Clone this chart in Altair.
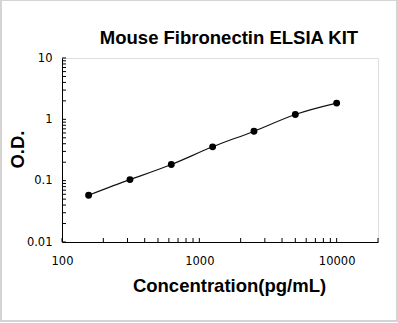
import altair as alt
import pandas as pd

# ---- data ----
conc = [156.25, 312.5, 625, 1250, 2500, 5000, 10000]
od = [0.058, 0.104, 0.183, 0.356, 0.641, 1.20, 1.84]

x_major = [100, 1000, 10000]
x_minor = [200, 300, 400, 500, 600, 700, 800, 900,
           2000, 3000, 4000, 5000, 6000, 7000, 8000, 9000, 20000]
y_major = [0.01, 0.1, 1, 10]
y_minor = [0.02, 0.03, 0.04, 0.05, 0.06, 0.07, 0.08, 0.09,
           0.2, 0.3, 0.4, 0.5, 0.6, 0.7, 0.8, 0.9,
           2, 3, 4, 5, 6, 7, 8, 9]
title_text = ["Mouse Fibronectin ELSIA KIT"]

W, H = 316, 184

df = pd.DataFrame({"conc": conc, "od": od})
xt = pd.DataFrame({"v": x_major + x_minor})
yt = pd.DataFrame({"v": y_major + y_minor})

xscale = alt.Scale(type="log", domain=[100, 20000], nice=False)
yscale = alt.Scale(type="log", domain=[0.01, 10], nice=False)

x_axis = alt.Axis(
    values=x_major, format="d", grid=False, ticks=True, tickSize=0,
    domainColor="black", domainWidth=1,
    labelFont="DejaVu Sans", labelFontSize=11.5, labelColor="black",
    labelPadding=13, labelFlush=False, labelOverlap=False,
    title="Concentration(pg/mL)", titleFont="Liberation Sans",
    titleFontSize=18.5, titleFontWeight="bold", titleColor="black",
    titleX=167, titleY=49, titleAlign="center", titleBaseline="alphabetic",
)
y_axis = alt.Axis(
    values=y_major, grid=False, ticks=True, tickSize=0,
    domainColor="black", domainWidth=1,
    labelExpr="datum.value >= 1 ? format(datum.value, 'd') : format(datum.value, '')",
    labelFont="DejaVu Sans", labelFontSize=11.5, labelColor="black",
    labelPadding=10, labelFlush=False, labelOverlap=False,
    title="O.D.", titleFont="Liberation Sans",
    titleFontSize=18.5, titleFontWeight="bold", titleColor="black",
    titleX=-38.5, titleY=91, titleAlign="center", titleBaseline="alphabetic",
    titleAngle=270,
)

base = alt.Chart(df)

line = base.mark_line(interpolate="natural", color="#111111", strokeWidth=1.1).encode(
    x=alt.X("conc:Q", scale=xscale, axis=x_axis),
    y=alt.Y("od:Q", scale=yscale, axis=y_axis),
)
pts = base.mark_circle(size=48, color="black", opacity=1).encode(
    x=alt.X("conc:Q", scale=xscale),
    y=alt.Y("od:Q", scale=yscale),
)

xticks = alt.Chart(xt).mark_rule(color="black", strokeWidth=1).encode(
    x=alt.X("v:Q", scale=xscale),
    y=alt.value(H),
    y2=alt.YValue(H - 4),
)
yticks = alt.Chart(yt).mark_rule(color="black", strokeWidth=1).encode(
    y=alt.Y("v:Q", scale=yscale),
    x=alt.value(0),
    x2=alt.XValue(4),
)

border = alt.Chart(pd.DataFrame({"a": [0]})).mark_rect(
    fill=None, stroke="#d4d4d4", strokeWidth=2, clip=False
).encode(
    x=alt.value(-61), x2=alt.XValue(335),
    y=alt.value(-58), y2=alt.YValue(263),
)

title = alt.Chart(pd.DataFrame({"t": title_text})).mark_text(
    font="Liberation Sans", fontSize=18.5, fontWeight="bold", color="black",
    align="center", baseline="alphabetic",
).encode(
    text="t:N", x=alt.value(167), y=alt.value(-14),
)

chart = alt.layer(border, line, pts, xticks, yticks, title).properties(
    width=W, height=H,
    autosize=alt.AutoSizeParams(type="none"),
    padding={"left": 62, "top": 58, "right": 20, "bottom": 81},
).configure_view(stroke=None).configure(background="white")

chart.save("out.html", embed_options={"renderer": "svg", "actions": False})
